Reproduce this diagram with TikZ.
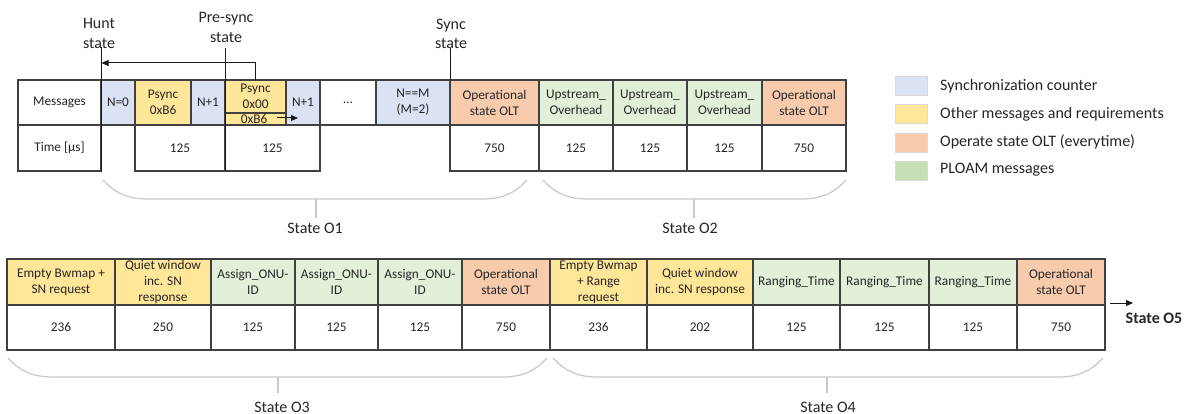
\documentclass[tikz,border=0pt]{standalone}
\usepackage{fontspec}
\setmainfont{Carlito}
\usetikzlibrary{arrows.meta}
\definecolor{cblue}{HTML}{DAE3F3}
\definecolor{cyel}{HTML}{FFE699}
\definecolor{corg}{HTML}{F8CBAD}
\definecolor{cgrn}{HTML}{E2F0D9}
\definecolor{lgrn}{HTML}{C5E0B4}
\definecolor{bracec}{HTML}{C8C8C8}
\definecolor{linec}{HTML}{404040}
\definecolor{txtc}{HTML}{262626}
\newcommand\mkcell[7]{%
  \node[cellbox, fill=#6, minimum width={(#4-#2)*1pt}, minimum height={(#5-#3)*1pt}] (#1) at ({(#2+#4)/2},{(#3+#5)/2}) {};
  \node[celltext] (#1-t) at (#1.center) {#7};}
\newcommand\mkbrace[6]{%
  \draw[bracestyle] (#1,#3) .. controls ({#1+12},{#3+13}) and ({#1+24},#4) .. ({#1+45},#4) -- ({#2-45},#4) .. controls ({#2-24},#4) and ({#2-12},{#3+13}) .. (#2,#3);
  \draw[bracestyle] (#5,#4) -- (#5,#6);}
\begin{document}
\begin{tikzpicture}[x=1pt,y=-1pt,
  cellbox/.style={draw=linec, line width=1.1pt, inner sep=0pt, outer sep=0pt},
  celltext/.style={font=\fontsize{13.3}{16}\selectfont, align=center, inner sep=0pt, text=txtc},
  lab/.style={font=\fontsize{16}{19.5}\selectfont, align=center, inner sep=0pt, text=txtc},
  legsq/.style={draw=black!15, line width=0.8pt, minimum width=32pt, minimum height=19pt, inner sep=0pt},
  legtext/.style={font=\fontsize{16}{19.5}\selectfont, anchor=west, inner sep=0pt, text=txtc},
  bracestyle/.style={draw=bracec, line width=1.2pt},
  conn/.style={draw=black!90, line width=1pt},
  tip/.style={-{Triangle[length=7pt,width=6pt]}}]
\useasboundingbox (0,0) rectangle (1189,414);
\fill[white] (0,0) rectangle (1189,414);

% ---------- top row: messages ----------
\mkcell{msg}{18}{80}{101}{125}{white}{Messages}
\mkcell{n0}{101}{80}{135}{125}{cblue}{N=0}
\mkcell{ps1}{135}{80}{191}{125}{cyel}{Psync\\0xB6}
\mkcell{n1a}{191}{80}{225}{125}{cblue}{N+1}
\mkcell{ps2}{225}{80}{286}{113}{cyel}{Psync\\0x00}
\mkcell{ps2b}{225}{113}{286}{125}{cyel}{}
\node[celltext] (b6) at (254,119) {0xB6};
\mkcell{n1b}{286}{80}{320}{125}{cblue}{N+1}
\mkcell{dots}{320}{80}{376}{125}{white}{\raisebox{-2pt}{…}}
\mkcell{nm}{376}{80}{450}{125}{cblue}{N==M\\(M=2)}
\mkcell{op1}{450}{80}{539}{125}{corg}{Operational\\state OLT}
\mkcell{up1}{539}{80}{613}{125}{cgrn}{Upstream\_\\Overhead}
\mkcell{up2}{613}{80}{687}{125}{cgrn}{Upstream\_\\Overhead}
\mkcell{up3}{687}{80}{762}{125}{cgrn}{Upstream\_\\Overhead}
\mkcell{op2}{762}{80}{846}{125}{corg}{Operational\\state OLT}
% ---------- top row: time ----------
\mkcell{tm}{18}{125}{101}{171}{white}{Time [µs]}
\mkcell{t1}{135}{125}{225}{171}{white}{125}
\mkcell{t2}{225}{125}{320}{171}{white}{125}
\mkcell{t3}{450}{125}{539}{171}{white}{750}
\mkcell{t4}{539}{125}{613}{171}{white}{125}
\mkcell{t5}{613}{125}{687}{171}{white}{125}
\mkcell{t6}{687}{125}{762}{171}{white}{125}
\mkcell{t7}{762}{125}{846}{171}{white}{750}

% ---------- state labels and markers ----------
\node[lab] (hunt) at (99,33.5) {Hunt\\state};
\node[lab] (presync) at (226,27.5) {Pre-sync\\state};
\node[lab] (sync) at (451,34) {Sync\\state};
\coordinate (huntA) at (101,47);
\coordinate (huntB) at (101,171);
\coordinate (preA) at (225,48);
\coordinate (preB) at (225,171);
\coordinate (syncA) at (450,48);
\coordinate (syncB) at (450,80);
\draw[conn] (huntA) -- (huntB);
\draw[conn] (preA) -- (preB);
\draw[conn] (syncA) -- (syncB);
\coordinate (bkA) at (255,80);
\coordinate (bkB) at (101.5,63);
\draw[conn,tip] (bkA) |- (bkB);
\coordinate (bxA) at (277,118);
\coordinate (bxB) at (298,118);
\draw[conn,tip] (bxA) -- (bxB);

% ---------- braces top ----------
\mkbrace{103}{527}{180}{199}{316}{218}
\node[lab] (s1) at (315,228) {State O1};
\mkbrace{543}{846}{180}{199}{694}{218}
\node[lab] (s2) at (690,228) {State O2};

% ---------- legend ----------
\node[legsq, fill=cblue] (lg1) at (911,85.5) {};
\node[legsq, fill=cyel] (lg2) at (911,113.5) {};
\node[legsq, fill=corg] (lg3) at (911,142.5) {};
\node[legsq, fill=lgrn] (lg4) at (911,171) {};
\node[legtext] (lt1) at (940,86) {Synchronization counter};
\node[legtext] (lt2) at (940,114) {Other messages and requirements};
\node[legtext] (lt3) at (940,142) {Operate state OLT (everytime)};
\node[legtext] (lt4) at (940,170) {PLOAM messages};

% ---------- bottom row: messages ----------
\mkcell{b1}{7}{259}{115}{305}{cyel}{Empty Bwmap +\\SN request}
\mkcell{b2}{115}{259}{211}{305}{cyel}{Quiet window\\inc. SN\\response}
\mkcell{b3}{211}{259}{295}{305}{cgrn}{Assign\_ONU-\\ID}
\mkcell{b4}{295}{259}{378}{305}{cgrn}{Assign\_ONU-\\ID}
\mkcell{b5}{378}{259}{462}{305}{cgrn}{Assign\_ONU-\\ID}
\mkcell{b6}{462}{259}{550}{305}{corg}{Operational\\state OLT}
\mkcell{b7}{550}{259}{647}{305}{cyel}{Empty Bwmap\\+ Range\\request}
\mkcell{b8}{647}{259}{753}{305}{cyel}{Quiet window\\inc. SN response}
\mkcell{b9}{753}{259}{840}{305}{cgrn}{Ranging\_Time}
\mkcell{b10}{840}{259}{929}{305}{cgrn}{Ranging\_Time}
\mkcell{b11}{929}{259}{1017}{305}{cgrn}{Ranging\_Time}
\mkcell{b12}{1017}{259}{1105}{305}{corg}{Operational\\state OLT}
% ---------- bottom row: time ----------
\mkcell{c1}{7}{305}{115}{350}{white}{236}
\mkcell{c2}{115}{305}{211}{350}{white}{250}
\mkcell{c3}{211}{305}{295}{350}{white}{125}
\mkcell{c4}{295}{305}{378}{350}{white}{125}
\mkcell{c5}{378}{305}{462}{350}{white}{125}
\mkcell{c6}{462}{305}{550}{350}{white}{750}
\mkcell{c7}{550}{305}{647}{350}{white}{236}
\mkcell{c8}{647}{305}{753}{350}{white}{202}
\mkcell{c9}{753}{305}{840}{350}{white}{125}
\mkcell{c10}{840}{305}{929}{350}{white}{125}
\mkcell{c11}{929}{305}{1017}{350}{white}{125}
\mkcell{c12}{1017}{305}{1105}{350}{white}{750}

% ---------- state O5 ----------
\coordinate (o5A) at (1110,303);
\coordinate (o5B) at (1133,303);
\draw[conn,tip] (o5A) -- (o5B);
\node[lab, font=\fontsize{16}{19.5}\selectfont\bfseries] (s5) at (1154,318) {State O5};

% ---------- braces bottom ----------
\mkbrace{8}{547}{358}{377}{278}{393}
\node[lab] (s3) at (282,407) {State O3};
\mkbrace{553}{1103}{358}{377}{827}{393}
\node[lab] (s4) at (828,407) {State O4};
\end{tikzpicture}
\end{document}
